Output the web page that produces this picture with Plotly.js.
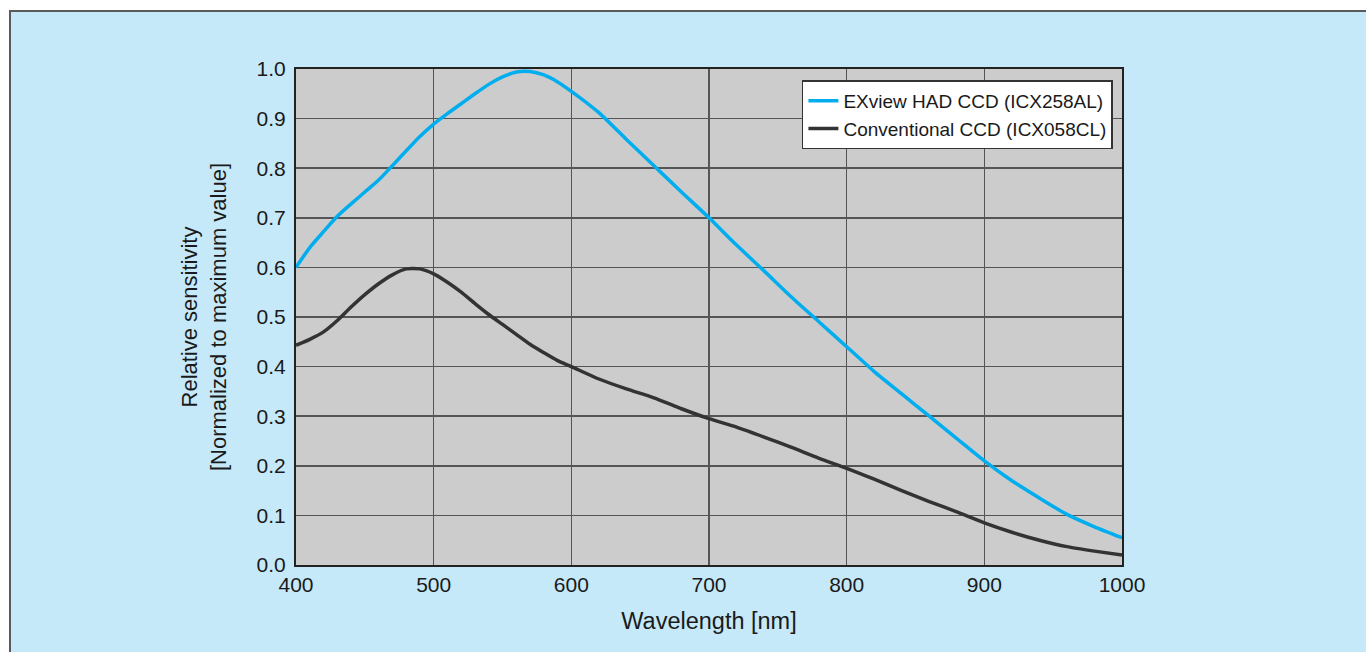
<!DOCTYPE html>
<html>
<head>
<meta charset="utf-8">
<script src="https://cdn.plot.ly/plotly-3.0.1.min.js"></script>
<style>
  html, body { margin: 0; padding: 0; background: #ffffff; }
  #frame { position: absolute; left: 9px; top: 10px; border-left: 2px solid #5a5a5a; border-top: 2px solid #5a5a5a; }
  #chart { width: 1355px; height: 640px; }
</style>
</head>
<body>
<div id="frame"><div id="chart"></div></div>
<script>
const wavelength = [400, 410, 420, 430, 440, 450, 460, 470, 480, 490, 500, 510, 520, 530, 540, 550, 560, 570, 580, 590, 600, 620, 640, 660, 680, 700, 720, 740, 760, 780, 800, 820, 840, 860, 880, 900, 920, 940, 960, 980, 1000];
const exviewHAD = [0.60, 0.64, 0.672, 0.703, 0.728, 0.752, 0.776, 0.805, 0.835, 0.864, 0.889, 0.91, 0.93, 0.95, 0.969, 0.984, 0.994, 0.995, 0.988, 0.974, 0.955, 0.912, 0.858, 0.805, 0.752, 0.70, 0.645, 0.593, 0.54, 0.49, 0.44, 0.39, 0.345, 0.30, 0.255, 0.21, 0.17, 0.135, 0.102, 0.077, 0.055];
const conventional = [0.443, 0.455, 0.47, 0.493, 0.52, 0.545, 0.567, 0.585, 0.597, 0.597, 0.587, 0.57, 0.55, 0.527, 0.505, 0.485, 0.465, 0.445, 0.428, 0.412, 0.40, 0.375, 0.355, 0.337, 0.315, 0.295, 0.278, 0.258, 0.237, 0.215, 0.195, 0.173, 0.15, 0.128, 0.107, 0.085, 0.066, 0.05, 0.037, 0.028, 0.02];
const seriesNames = ['EXview HAD CCD (ICX258AL)', 'Conventional CCD (ICX058CL)'];
const xTicks = [400, 500, 600, 700, 800, 900, 1000];
const yTicks = [0.0, 0.1, 0.2, 0.3, 0.4, 0.5, 0.6, 0.7, 0.8, 0.9, 1.0];

const font = 'Liberation Sans, Arial, Helvetica, sans-serif';
const traces = [
  { x: wavelength, y: exviewHAD, name: seriesNames[0], type: 'scatter', mode: 'lines',
    line: { color: '#00aeef', width: 3.5, shape: 'spline', smoothing: 0.6 } },
  { x: wavelength, y: conventional, name: seriesNames[1], type: 'scatter', mode: 'lines',
    line: { color: '#333333', width: 3.5, shape: 'spline', smoothing: 0.6 } }
];
const layout = {
  width: 1355, height: 640,
  margin: { l: 285, r: 244, t: 57, b: 87 },
  paper_bgcolor: '#c6e9f9',
  plot_bgcolor: '#cccccc',
  font: { family: font, color: '#1a1a1a', size: 21 },
  showlegend: true,
  legend: {
    x: 0.989, y: 0.977, xanchor: 'right', yanchor: 'top',
    bgcolor: '#ffffff', bordercolor: '#333333', borderwidth: 1.5,
    font: { family: font, size: 19, color: '#1a1a1a' },
    tracegroupgap: 0
  },
  xaxis: {
    range: [400, 1000], tickvals: xTicks, ticktext: xTicks.map(String),
    showgrid: true, gridcolor: '#555555', gridwidth: 1.5,
    showline: true, linecolor: '#222222', linewidth: 2, mirror: true,
    ticks: '', zeroline: false,
    tickfont: { size: 21 },
    title: { text: 'Wavelength [nm]', font: { size: 23.5 }, standoff: 17 }
  },
  yaxis: {
    range: [0, 1.0], tickvals: yTicks, ticktext: yTicks.map(v => v.toFixed(1)),
    showgrid: true, gridcolor: '#555555', gridwidth: 1.5,
    showline: true, linecolor: '#222222', linewidth: 2, mirror: true,
    ticks: '', zeroline: false, ticklabelstandoff: 4,
    tickfont: { size: 21 },
    title: { text: 'Relative sensitivity<br>[Normalized to maximum value]', font: { size: 22 }, standoff: 24 }
  }
};
Plotly.newPlot('chart', traces, layout, { displayModeBar: false, staticPlot: true });
</script>
</body>
</html>
